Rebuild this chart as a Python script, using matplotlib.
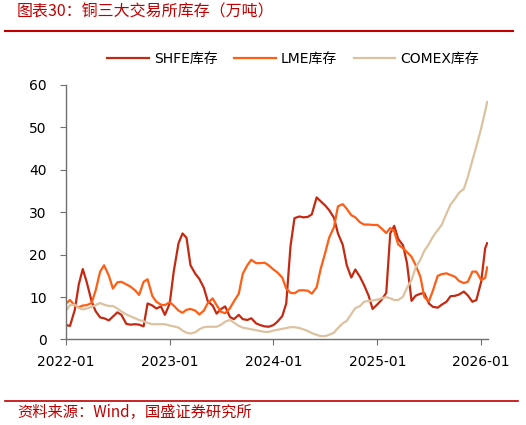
import pandas as pd
import matplotlib.pyplot as plt

plt.rcParams['font.family'] = ['DejaVu Sans', 'Noto Sans CJK SC']

# 半月度数据（万吨），2022-01-01 起，最后一个点为 2026-01-22
shfe = [3.4, 3.2, 7.0, 13.0, 16.6, 13.5, 9.0, 6.7, 5.2, 5.0,
        4.5, 5.4, 6.4, 5.8, 3.7, 3.5, 3.6, 3.5, 3.1, 8.5,
        8.0, 7.3, 7.8, 5.8, 8.5, 16.0, 22.7, 25.0, 24.0, 17.5,
        15.5, 14.3, 12.2, 9.0, 8.0, 6.1, 7.2, 7.8, 5.3, 4.8,
        5.8, 4.8, 4.6, 5.0, 3.8, 3.4, 3.1, 3.0, 3.4, 4.2,
        5.5, 8.5, 22.0, 28.6, 29.0, 28.8, 28.9, 29.5, 33.5, 32.6,
        31.6, 30.5, 28.7, 25.0, 22.3, 17.5, 14.6, 16.5, 14.7, 12.8,
        10.3, 7.2, 8.3, 9.3, 11.0, 25.0, 26.8, 23.7, 22.2, 18.0,
        9.1, 10.3, 10.8, 10.9, 8.5, 7.7, 7.5, 8.2, 8.9, 10.2,
        10.3, 10.6, 11.3, 10.4, 8.9, 9.3, 13.6, 21.5, 22.7]

lme = [8.5, 9.3, 8.0, 7.6, 8.0, 8.1, 8.6, 11.5, 16.0, 17.5,
       15.0, 12.0, 13.5, 13.6, 13.0, 12.5, 11.6, 10.5, 13.6, 14.2,
       10.2, 8.9, 8.2, 8.1, 8.8, 8.0, 6.8, 6.3, 7.0, 7.2,
       6.8, 5.9, 6.8, 8.6, 9.7, 8.1, 6.5, 6.2, 7.4, 9.0,
       10.8, 15.5, 17.5, 18.8, 18.0, 18.0, 18.1, 17.5, 16.5, 15.8,
       14.6, 12.0, 11.0, 10.9, 11.6, 11.6, 11.5, 10.8, 12.3, 16.6,
       20.4, 24.0, 26.5, 31.4, 31.9, 30.8, 29.3, 28.8, 27.6, 27.1,
       27.1, 27.0, 27.0, 26.2, 25.1, 26.3, 25.5, 22.4, 21.5, 20.6,
       19.5, 17.6, 14.8, 10.0, 9.0, 11.5, 15.0, 15.4, 15.6, 15.2,
       14.8, 13.8, 13.3, 13.6, 16.0, 16.0, 14.0, 14.5, 17.0]

comex = [6.8, 8.1, 8.2, 7.4, 7.1, 7.3, 7.7, 8.1, 8.6, 8.2,
         7.9, 7.9, 7.3, 6.6, 5.9, 5.5, 5.0, 4.6, 4.3, 3.9,
         3.6, 3.6, 3.6, 3.6, 3.3, 3.1, 2.8, 2.1, 1.6, 1.4,
         1.7, 2.4, 2.9, 3.0, 3.0, 3.0, 3.5, 4.2, 4.6, 4.0,
         3.2, 2.8, 2.6, 2.4, 2.2, 2.0, 1.8, 1.8, 2.1, 2.3,
         2.5, 2.7, 2.9, 2.9, 2.7, 2.4, 2.0, 1.5, 1.1, 0.8,
         0.8, 1.1, 1.6, 2.7, 3.8, 4.4, 6.0, 7.4, 7.9, 8.9,
         9.1, 9.2, 9.4, 9.7, 10.0, 9.7, 9.3, 9.3, 10.1, 12.2,
         14.0, 16.9, 18.8, 20.9, 22.5, 24.2, 25.8, 27.0, 29.7, 31.8,
         33.2, 34.6, 35.5, 38.3, 42.2, 45.5, 49.8, 53.8, 56.0]

dates = list(pd.date_range('2022-01-01', '2026-01-15', freq='SMS')) + [pd.Timestamp('2026-01-22')]
year_ticks = pd.to_datetime(['2022-01-01', '2023-01-01', '2024-01-01', '2025-01-01', '2026-01-01'])
tick_labels = ['2022-01', '2023-01', '2024-01', '2025-01', '2026-01']

red = '#C00000'

fig = plt.figure(figsize=(5.26, 4.25), dpi=100)
ax = fig.add_axes([0.1255, 0.2012, 0.8017, 0.5988])

ax.plot(dates, shfe, color='#C42A12', lw=1.6, label='SHFE库存')
ax.plot(dates, lme, color='#FF5E14', lw=1.6, label='LME库存')
ax.plot(dates, comex, color='#DCC2A0', lw=1.6, label='COMEX库存')

ax.set_ylim(0, 60)
ax.set_yticks(range(0, 61, 10))
ax.set_xlim(pd.Timestamp('2022-01-01'), pd.Timestamp('2026-01-24'))
ax.set_xticks(year_ticks)
ax.set_xticklabels(tick_labels)

for s in ['top', 'right']:
    ax.spines[s].set_visible(False)
for s in ['left', 'bottom']:
    ax.spines[s].set_color('#707070')
    ax.spines[s].set_linewidth(1.0)
ax.tick_params(axis='both', labelsize=10, color='#707070', length=4, direction='out')
ax.tick_params(axis='y', pad=10)
ax.tick_params(axis='x', pad=7)

fig.legend(loc='center', bbox_to_anchor=(0.557, 0.861), ncol=3, frameon=False,
           fontsize=10, handlelength=3.0, handletextpad=0.35, columnspacing=1.2)

# 标题与来源
fig.text(0.032, 0.972, '图表30：铜三大交易所库存（万吨）', color=red, fontsize=11.5,
         style='italic', family=['Noto Sans CJK SC', 'DejaVu Sans'], va='center')
fig.add_artist(plt.Line2D([0.01, 0.975], [0.927, 0.927], color=red, lw=1.5))
fig.add_artist(plt.Line2D([0.01, 0.985], [0.057, 0.057], color=red, lw=1.2))
fig.text(0.032, 0.03, '资料来源：Wind，国盛证券研究所', color=red, fontsize=11,
         style='italic', family=['Noto Sans CJK SC', 'DejaVu Sans'], va='center')

plt.savefig('out.png', dpi=100)
plt.close()
